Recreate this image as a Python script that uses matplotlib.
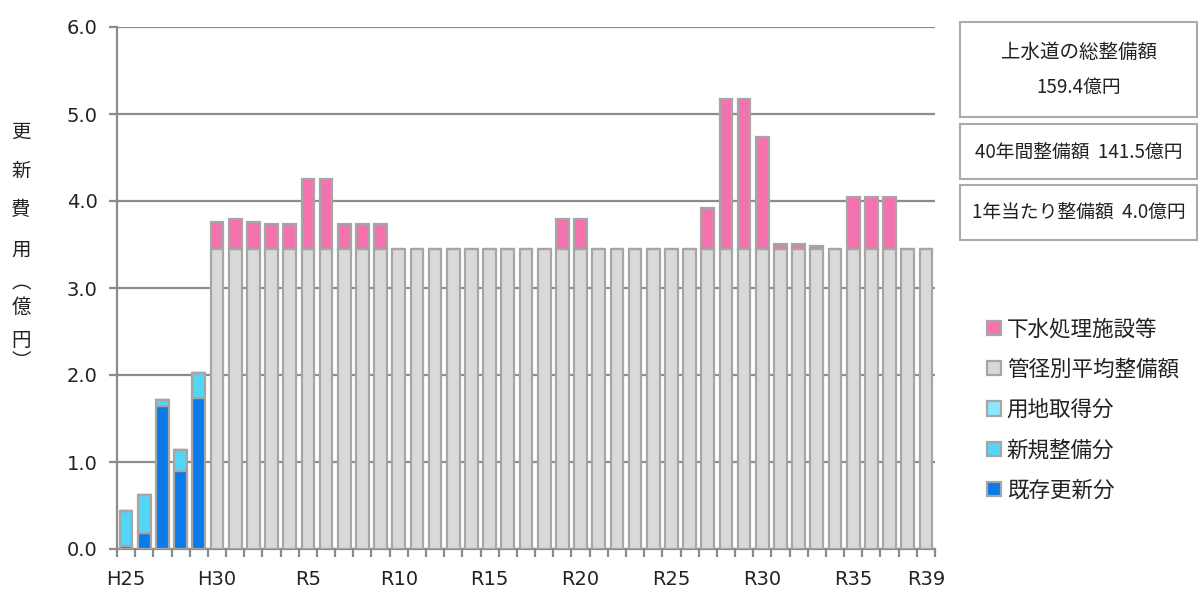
import matplotlib
matplotlib.use("Agg")
import matplotlib.pyplot as plt
from matplotlib.patches import Rectangle
import numpy as np

plt.rcParams['font.family'] = ['Noto Sans CJK JP', 'DejaVu Sans']

years = ['H25', 'H26', 'H27', 'H28', 'H29', 'H30'] + ['R%d' % i for i in range(1, 40)]
tick_labels = {0: 'H25', 5: 'H30', 10: 'R5', 15: 'R10', 20: 'R15', 25: 'R20',
               30: 'R25', 35: 'R30', 40: 'R35', 44: 'R39'}

existing = [0.03, 0.18, 1.64, 0.90, 1.74] + [0.0] * 40
new_dev = [0.41, 0.44, 0.07, 0.24, 0.28] + [0.0] * 40
land = [0.0] * 45
pipe_avg = [0.0] * 5 + [3.45] * 40
# sewage-type extras for H30 .. R39
sewage = [0.0] * 5 + [
    0.31, 0.34, 0.31, 0.28, 0.28,   # H30, R1-R4
    0.80, 0.80, 0.28, 0.28, 0.28,   # R5-R9
    0, 0, 0, 0, 0, 0, 0, 0, 0,      # R10-R18
    0.34, 0.34,                     # R19-R20
    0, 0, 0, 0, 0, 0,               # R21-R26
    0.47, 1.72, 1.72, 1.28,         # R27-R30
    0.06, 0.06, 0.03, 0.0,          # R31-R34
    0.60, 0.60, 0.60,               # R35-R37
    0.0, 0.0]                       # R38-R39

c_exist = '#0a7be8'
c_new = '#52d6f8'
c_land = '#8de6ff'
c_pipe = '#d9d9d9'
c_sew = '#f472ad'
edge = '#a6a6a6'

fig = plt.figure(figsize=(12, 5.9), dpi=100)
W, H = 1200, 590
ax = fig.add_axes([117 / W, (H - 549) / H, 818 / W, 522 / H])

x = np.arange(len(years))
w = 0.7
kw = dict(width=w, edgecolor=edge, linewidth=1.6, zorder=3)
b0 = np.zeros(len(years))
h_exist = ax.bar(x, existing, bottom=b0, color=c_exist, label='既存更新分', **kw)
b1 = b0 + np.array(existing)
h_new = ax.bar(x, new_dev, bottom=b1, color=c_new, label='新規整備分', **kw)
b2 = b1 + np.array(new_dev)
h_land = ax.bar(x, land, bottom=b2, color=c_land, label='用地取得分', **kw)
b3 = b2 + np.array(land)
h_pipe = ax.bar(x, pipe_avg, bottom=b3, color=c_pipe, label='管径別平均整備額', **kw)
b4 = b3 + np.array(pipe_avg)
h_sew = ax.bar(x, sewage, bottom=b4, color=c_sew, label='下水処理施設等', **kw)

ax.set_xlim(-0.5, len(years) - 0.5)
ax.set_ylim(0, 6.0)
ax.set_yticks(np.arange(0, 6.01, 1.0))
ax.set_yticklabels(['%.1f' % v for v in np.arange(0, 6.01, 1.0)],
                   family='DejaVu Sans', fontsize=14, color='#222222')
ax.yaxis.grid(True, color='#8c8c8c', linewidth=1.6, zorder=0)
ax.set_axisbelow(True)

ax.set_xticks(np.arange(-0.5, len(years), 1.0))
ax.set_xticklabels([])
ax.tick_params(axis='x', length=6, width=1.6, color='#8c8c8c', direction='out')
ax.tick_params(axis='y', length=6, width=1.6, color='#8c8c8c', direction='out', pad=8)
for i, lab in tick_labels.items():
    ax.text(i, -0.24, lab, transform=ax.transData, ha='center', va='top',
            fontsize=14, family='DejaVu Sans', color='#222222')

for s in ['top', 'right']:
    ax.spines[s].set_visible(False)
for s in ['left', 'bottom']:
    ax.spines[s].set_color('#8c8c8c')
    ax.spines[s].set_linewidth(1.6)

# y label (vertical, stacked)
ylab_chars = ['更', '新', '費', '用', '︵', '億', '円', '︶']
ylab_y = [132, 171, 210, 250, 283, 307, 340, 362]
for ch, yy in zip(ylab_chars, ylab_y):
    fig.text(21 / W, 1 - yy / H, ch, ha='center', va='center', fontsize=14, color='#222222')

# info boxes
boxes = [(960, 22, 237, 95), (960, 124, 237, 55), (960, 185, 237, 55)]
for bx, by, bw, bh in boxes:
    fig.patches.append(Rectangle((bx / W, 1 - (by + bh) / H), bw / W, bh / H,
                                 transform=fig.transFigure, facecolor='white',
                                 edgecolor='#aaaaaa', linewidth=1.5))
box_texts = [('上水道の総整備額', 52, 14), ('159.4億円', 87, 13.5),
             ('40年間整備額  141.5億円', 152, 13.5), ('1年当たり整備額  4.0億円', 212, 13.5)]
for t, yy, fs in box_texts:
    fig.text(1079 / W, 1 - yy / H, t, ha='center', va='center', fontsize=fs, color='#222222')

handles = [h_sew, h_pipe, h_land, h_new, h_exist]
leg = fig.legend(handles=handles, labels=[h.get_label() for h in handles],
                 loc='upper left', bbox_to_anchor=(968 / W, 1 - 299 / H),
                 frameon=False, fontsize=15.5, handlelength=0.65, handleheight=0.65,
                 handletextpad=0.25, labelspacing=0.85)
for t in leg.get_texts():
    t.set_color('#222222')

fig.savefig('out.png', dpi=100)
